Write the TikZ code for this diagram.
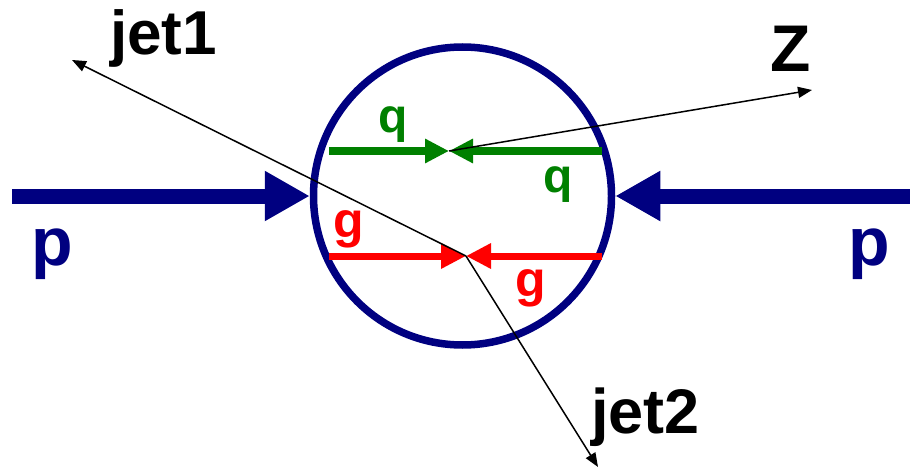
\documentclass[tikz,border=0pt]{standalone}
\usepackage{fontspec}
\setmainfont{Liberation Sans}
\usetikzlibrary{arrows.meta}
\definecolor{beam}{RGB}{0,0,128}
\definecolor{qgreen}{RGB}{0,128,0}
\definecolor{gred}{RGB}{255,0,0}
\tikzset{
  pbeam/.style={draw=beam,line width=15pt,-{Triangle[length=45pt,width=47pt]}},
  qline/.style={draw=qgreen,line width=7pt,-{Triangle[length=24pt,width=23pt]}},
  gline/.style={draw=gred,line width=7pt,-{Triangle[length=25pt,width=24pt]}},
  jetline/.style={draw=black,line width=1.5pt,-{Triangle[length=14pt,width=11pt]}},
  lbl/.style={inner sep=0pt,anchor=base west,font=\bfseries},
}
\begin{document}
\begin{tikzpicture}[x=1pt,y=-1pt]
\useasboundingbox (0,0) rectangle (910,468);
% interaction region
\node[circle,draw=beam,line width=7.5pt,minimum size=298pt,inner sep=0pt] (blob) at (462.5,196) {};
% beams
\coordinate (pL) at (12,196);
\coordinate (pR) at (910,196);
\draw[pbeam] (pL) -- (blob.west);
\draw[pbeam] (pR) -- (blob.east);
% partons
\coordinate (qv) at (449,151);
\coordinate (qL) at (329,151);
\coordinate (qR) at (602,151);
\coordinate (gv) at (466,256);
\coordinate (gL) at (329,256);
\coordinate (gR) at (602,256);
\draw[qline] (qL) -- (qv);
\draw[qline] (qR) -- (qv);
\draw[gline] (gL) -- (gv);
\draw[gline] (gR) -- (gv);
% outgoing
\coordinate (j1) at (72,60);
\coordinate (j2) at (598,467);
\coordinate (zt) at (812,90);
\draw[jetline] (gv) -- (j1);
\draw[jetline] (gv) -- (j2);
\draw[jetline] (qv) -- (zt);
% labels
\node[lbl,text=beam,font=\bfseries\fontsize{68}{80}\selectfont] (pLt) at (31,265) {p};
\node[lbl,text=beam,font=\bfseries\fontsize{68}{80}\selectfont] (pRt) at (848,265) {p};
\node[lbl,font=\bfseries\fontsize{62}{72}\selectfont] (jet1t) at (110,55) {jet1};
\node[lbl,font=\bfseries\fontsize{63}{72}\selectfont] (jet2t) at (591,433) {jet2};
\node[lbl,font=\bfseries\fontsize{66}{78}\selectfont] (zt1) at (770,72) {Z};
\node[lbl,text=qgreen,font=\bfseries\fontsize{48}{56}\selectfont] (q1) at (378,132) {q};
\node[lbl,text=qgreen,font=\bfseries\fontsize{48}{56}\selectfont] (q2) at (543,192) {q};
\node[lbl,text=gred,font=\bfseries\fontsize{50}{58}\selectfont] (g1) at (333,237) {g};
\node[lbl,text=gred,font=\bfseries\fontsize{50}{58}\selectfont] (g2) at (515,296) {g};
\end{tikzpicture}
\end{document}
